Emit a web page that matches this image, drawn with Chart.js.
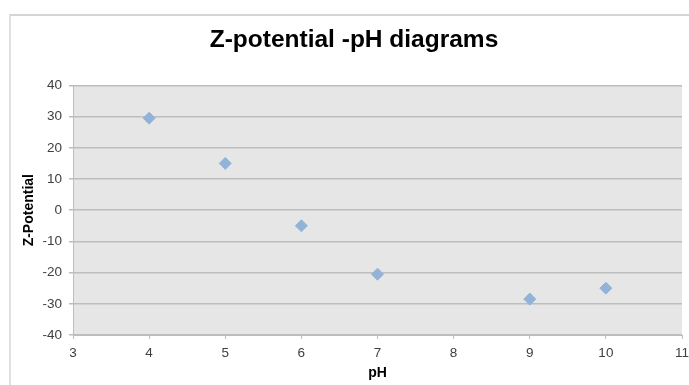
<!DOCTYPE html>
<html>
<head>
<meta charset="utf-8">
<script src="https://cdn.jsdelivr.net/npm/chart.js@4"></script>
<style>
  html, body { margin: 0; padding: 0; background: #fff; overflow: hidden; }
  #wrap { position: relative; width: 689px; height: 385px; }
  #frame {
    position: absolute; left: 9px; top: 14px; width: 700px; height: 400px;
    border-top: 2px solid #d4d4d4; border-left: 2px solid #e0e0e0;
    pointer-events: none;
  }
</style>
</head>
<body>
<div id="wrap">
  <canvas id="chart" width="689" height="385"></canvas>
  <div id="frame"></div>
</div>
<script>
"use strict";

// data
var phValues = [4, 5, 6, 7, 9, 10];
var zPotential = [29.5, 15, -5, -20.5, -28.5, -25];

var xMin = 3, xMax = 11, xStep = 1;
var yMin = -40, yMax = 40, yStep = 10;

var points = phValues.map(function (ph, i) {
	return { x: ph, y: zPotential[i] };
});

// grey plot background like the old Excel style
var plotBackground = {
	id: 'plotBackground',
	beforeDraw: function (chart) {
		var a = chart.chartArea;
		var ctx = chart.ctx;
		ctx.save();
		ctx.fillStyle = '#e6e6e6';
		ctx.fillRect(a.left, a.top, a.right - a.left, a.bottom - a.top);
		ctx.restore();
	}
};

var font = 'Liberation Sans, Arial, sans-serif';

new Chart(document.getElementById('chart'), {
	type: 'scatter',
	data: {
		datasets: [{
			label: 'Z-Potential',
			data: points,
			pointStyle: 'rectRot',
			pointRadius: 6,
			pointHoverRadius: 6,
			backgroundColor: '#91b3d8',
			borderColor: '#91b3d8',
			borderWidth: 1
		}]
	},
	options: {
		responsive: false,
		animation: false,
		layout: { padding: { left: 19, right: 0, top: 0, bottom: 0 } },
		plugins: {
			legend: { display: false },
			tooltip: { enabled: false },
			title: {
				display: true,
				text: 'Z-potential -pH diagrams',
				color: '#000',
				font: { family: font, size: 24.5, weight: 'bold' },
				padding: { top: 26, bottom: 30 }
			}
		},
		scales: {
			x: {
				type: 'linear',
				min: xMin,
				max: xMax,
				afterFit: function (scale) {
					scale.height = 50;
					// the last label is cut by the window edge in the original
					scale.paddingRight = 6;
				},
				ticks: {
					stepSize: xStep,
					color: '#404040',
					padding: 6,
					font: { family: font, size: 13.5 }
				},
				grid: {
					drawOnChartArea: false,
					drawTicks: true,
					tickLength: 4,
					color: '#bdbdbd'
				},
				border: { display: true, color: '#bdbdbd', width: 1 },
				title: {
					display: true,
					text: 'pH',
					color: '#000',
					font: { family: font, size: 14, weight: 'bold' },
					padding: { top: 0, bottom: 3.6 }
				}
			},
			y: {
				min: yMin,
				max: yMax,
				afterFit: function (scale) { scale.width = 54; },
				ticks: {
					stepSize: yStep,
					color: '#404040',
					padding: 7,
					font: { family: font, size: 13.5 }
				},
				grid: {
					color: '#bdbdbd',
					lineWidth: 1.5,
					tickLength: 4
				},
				border: { display: true, color: '#bdbdbd', width: 1 },
				title: {
					display: true,
					text: 'Z-Potential',
					color: '#000',
					font: { family: font, size: 14, weight: 'bold' },
					padding: { top: 1.6, bottom: 0 }
				}
			}
		}
	},
	plugins: [plotBackground]
});
</script>
</body>
</html>
